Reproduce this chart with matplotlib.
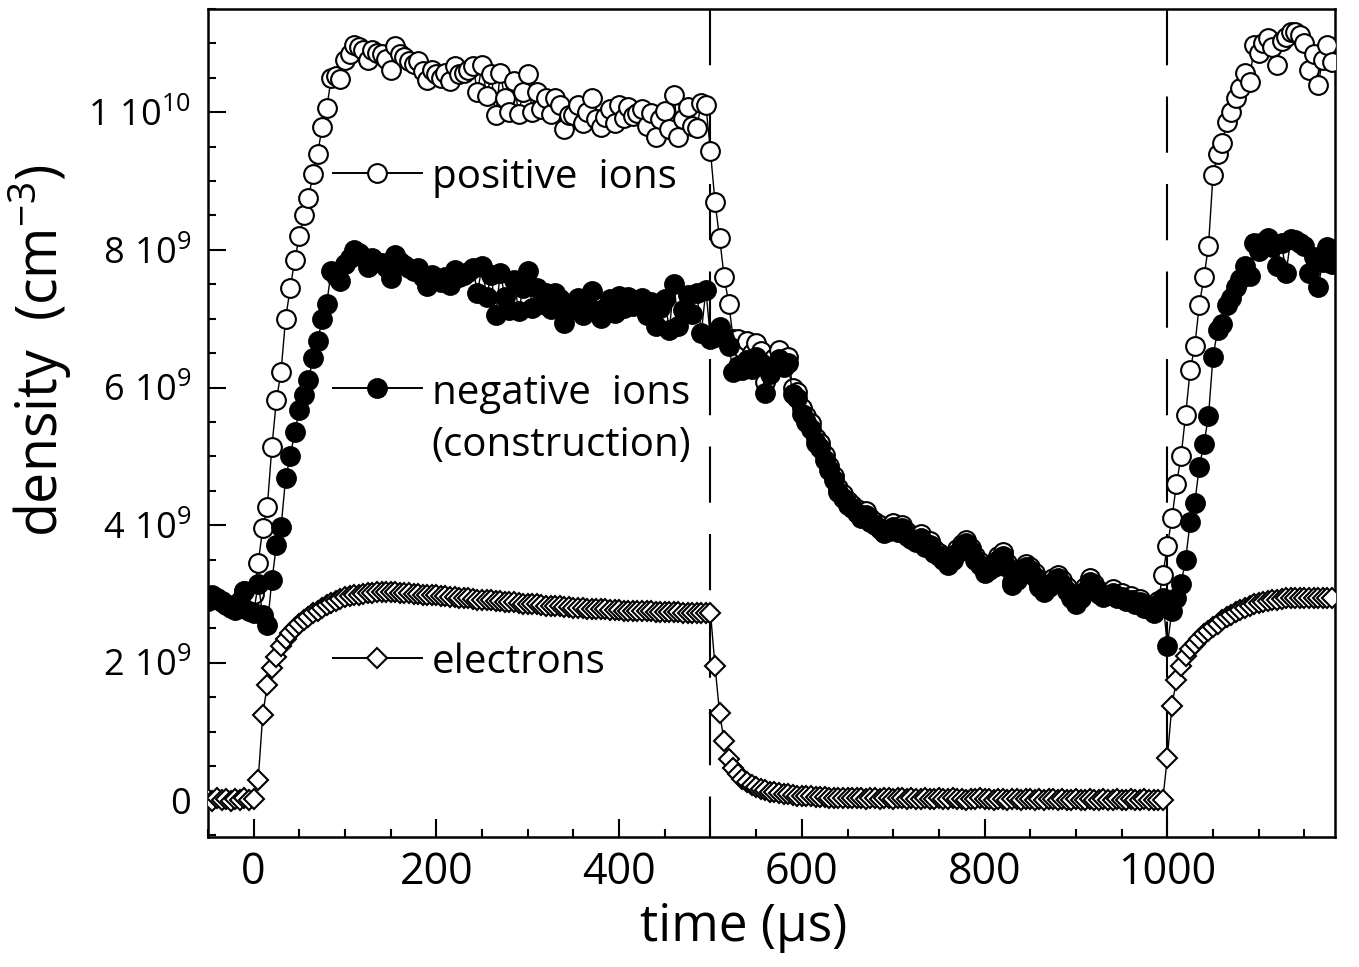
import numpy as np
import matplotlib
matplotlib.use("Agg")
import matplotlib.pyplot as plt
from matplotlib.ticker import MultipleLocator, FixedLocator, FixedFormatter

plt.rcParams['font.family'] = ['Open Sans', 'DejaVu Sans']
plt.rcParams['mathtext.fontset'] = 'custom'
plt.rcParams['mathtext.rm'] = 'Open Sans'
plt.rcParams['mathtext.it'] = 'Open Sans'

# ---- data (densities in units of 1e9 cm^-3), sampled every 5 us from -50 us ----
t_start = -50
t_step = 5

electrons = [
    0.02, 0.00, 0.03, 0.01, 0.02, 0.00, 0.02, 0.01, 0.03, 0.01,
    0.02, 0.30, 1.25, 1.68, 1.92, 2.09, 2.24, 2.35, 2.43, 2.51,
    2.57, 2.62, 2.67, 2.72, 2.76, 2.80, 2.84, 2.87, 2.90, 2.93,
    2.96, 2.97, 2.98, 2.99, 3.00, 3.01, 3.02, 3.03, 3.03, 3.03,
    3.03, 3.03, 3.02, 3.02, 3.01, 3.00, 3.00, 2.99, 2.99, 2.98,
    2.98, 2.97, 2.97, 2.96, 2.96, 2.95, 2.94, 2.94, 2.93, 2.92,
    2.92, 2.91, 2.91, 2.90, 2.90, 2.89, 2.88, 2.88, 2.87, 2.86,
    2.86, 2.85, 2.85, 2.84, 2.83, 2.83, 2.82, 2.82, 2.81, 2.81,
    2.80, 2.80, 2.80, 2.79, 2.79, 2.79, 2.78, 2.78, 2.77, 2.77,
    2.77, 2.76, 2.76, 2.76, 2.75, 2.75, 2.75, 2.75, 2.74, 2.74,
    2.74, 2.74, 2.74, 2.74, 2.73, 2.73, 2.73, 2.73, 2.73, 2.73,
    2.73, 1.95, 1.27, 0.86, 0.60, 0.47, 0.38, 0.32, 0.27, 0.23,
    0.20, 0.17, 0.15, 0.13, 0.12, 0.11, 0.10, 0.09, 0.08, 0.07,
    0.07, 0.06, 0.06, 0.05, 0.05, 0.05, 0.04, 0.04, 0.04, 0.04,
    0.03, 0.04, 0.03, 0.03, 0.02, 0.03, 0.03, 0.02, 0.03, 0.03,
    0.02, 0.03, 0.03, 0.02, 0.03, 0.02, 0.02, 0.03, 0.02, 0.02,
    0.03, 0.02, 0.02, 0.03, 0.02, 0.02, 0.01, 0.02, 0.02, 0.03,
    0.02, 0.02, 0.01, 0.02, 0.02, 0.01, 0.02, 0.02, 0.01, 0.02,
    0.02, 0.01, 0.02, 0.01, 0.02, 0.02, 0.01, 0.02, 0.01, 0.01,
    0.02, 0.01, 0.01, 0.02, 0.01, 0.01, 0.02, 0.01, 0.01, 0.02,
    0.01, 0.01, 0.02, 0.01, 0.01, 0.02, 0.01, 0.01, 0.01, 0.01,
    0.62, 1.38, 1.75, 1.95, 2.10, 2.20, 2.28, 2.35, 2.42, 2.47,
    2.52, 2.57, 2.62, 2.66, 2.70, 2.74, 2.77, 2.80, 2.82, 2.85,
    2.87, 2.89, 2.90, 2.91, 2.92, 2.93, 2.94, 2.95, 2.95, 2.95,
    2.95, 2.95, 2.95, 2.94, 2.94, 2.94, 2.94,
]

positive_ions = [
    2.94, 2.98, 2.95, 2.90, 2.86, 2.82, 2.80, 2.90, 3.05, 2.78,
    3.00, 3.45, 3.96, 4.27, 5.14, 5.82, 6.23, 7.00, 7.44, 7.85,
    8.20, 8.50, 8.75, 9.10, 9.40, 9.78, 10.06, 10.50, 10.52, 10.48,
    10.76, 10.85, 10.98, 10.95, 10.90, 10.76, 10.90, 10.86, 10.84, 10.78,
    10.62, 10.96, 10.84, 10.80, 10.74, 10.70, 10.74, 10.60, 10.47, 10.62,
    10.55, 10.50, 10.57, 10.45, 10.67, 10.55, 10.57, 10.62, 10.67, 10.30,
    10.69, 10.23, 10.55, 9.96, 10.57, 10.20, 10.00, 10.45, 9.98, 10.30,
    10.55, 10.00, 10.29, 10.05, 10.20, 9.97, 10.20, 10.10, 9.75, 9.96,
    9.96, 10.10, 9.85, 10.00, 10.20, 9.90, 9.79, 9.93, 10.05, 9.85,
    10.10, 9.92, 10.08, 9.95, 9.99, 10.05, 9.80, 9.99, 9.64, 9.90,
    10.02, 9.75, 10.25, 9.64, 9.90, 10.07, 9.80, 9.77, 10.14, 10.10,
    9.43, 8.69, 8.17, 7.61, 7.22, 6.70, 6.70, 6.57, 6.67, 6.50,
    6.65, 6.53, 6.08, 6.35, 6.43, 6.54, 6.41, 6.45, 6.00, 5.94,
    5.71, 5.58, 5.48, 5.27, 5.19, 5.02, 4.86, 4.71, 4.54, 4.46,
    4.35, 4.30, 4.23, 4.15, 4.20, 4.10, 4.05, 4.00, 3.93, 3.97,
    4.03, 3.95, 4.01, 3.90, 3.85, 3.80, 3.87, 3.73, 3.77, 3.65,
    3.60, 3.55, 3.47, 3.55, 3.65, 3.73, 3.79, 3.67, 3.55, 3.47,
    3.35, 3.40, 3.45, 3.55, 3.61, 3.45, 3.18, 3.25, 3.35, 3.44,
    3.40, 3.30, 3.15, 3.08, 3.15, 3.23, 3.28, 3.20, 3.10, 3.00,
    2.91, 3.00, 3.10, 3.23, 3.15, 3.05, 3.01, 3.03, 3.07, 3.00,
    3.01, 2.95, 2.97, 2.91, 2.93, 2.85, 2.83, 2.77, 2.90, 3.27,
    3.70, 4.10, 4.60, 5.00, 5.60, 6.25, 6.60, 7.20, 7.60, 8.05,
    9.09, 9.40, 9.55, 9.86, 10.00, 10.20, 10.35, 10.57, 10.44, 10.98,
    10.86, 11.00, 11.08, 10.95, 10.69, 11.03, 11.10, 11.16, 11.17, 11.12,
    11.01, 10.62, 10.85, 10.40, 10.76, 10.98, 10.73,
]

negative_ions = [
    2.90, 2.97, 2.93, 2.88, 2.84, 2.80, 2.77, 2.88, 3.04, 2.76,
    2.72, 3.15, 2.70, 2.55, 3.20, 3.71, 3.97, 4.68, 5.00, 5.35,
    5.67, 5.89, 6.11, 6.43, 6.67, 7.00, 7.22, 7.70, 7.62, 7.55,
    7.80, 7.88, 8.00, 7.96, 7.90, 7.75, 7.88, 7.83, 7.81, 7.75,
    7.59, 7.93, 7.82, 7.78, 7.73, 7.70, 7.74, 7.61, 7.48, 7.64,
    7.57, 7.53, 7.60, 7.49, 7.71, 7.60, 7.63, 7.68, 7.74, 7.38,
    7.77, 7.32, 7.64, 7.06, 7.67, 7.31, 7.12, 7.57, 7.11, 7.44,
    7.69, 7.15, 7.44, 7.21, 7.37, 7.14, 7.38, 7.28, 6.94, 7.15,
    7.16, 7.30, 7.05, 7.21, 7.41, 7.11, 7.01, 7.15, 7.28, 7.08,
    7.33, 7.16, 7.32, 7.19, 7.24, 7.30, 7.05, 7.24, 6.90, 7.16,
    7.28, 6.84, 7.51, 6.90, 7.13, 7.34, 7.07, 7.37, 6.80, 7.42,
    6.70, 6.74, 6.88, 6.72, 6.60, 6.23, 6.32, 6.25, 6.40, 6.27,
    6.45, 6.35, 5.92, 6.20, 6.30, 6.42, 6.30, 6.35, 5.90, 5.85,
    5.62, 5.50, 5.40, 5.20, 5.12, 4.95, 4.80, 4.65, 4.48, 4.40,
    4.30, 4.25, 4.18, 4.10, 4.15, 4.05, 4.00, 3.95, 3.88, 3.92,
    3.98, 3.90, 3.96, 3.85, 3.80, 3.75, 3.82, 3.68, 3.72, 3.60,
    3.55, 3.50, 3.42, 3.50, 3.60, 3.68, 3.74, 3.62, 3.50, 3.42,
    3.30, 3.35, 3.40, 3.50, 3.56, 3.40, 3.13, 3.20, 3.30, 3.39,
    3.35, 3.25, 3.10, 3.03, 3.10, 3.18, 3.23, 3.15, 3.05, 2.95,
    2.86, 2.95, 3.05, 3.18, 3.10, 3.00, 2.96, 2.98, 3.02, 2.95,
    2.96, 2.90, 2.92, 2.86, 2.88, 2.80, 2.78, 2.72, 2.85, 2.94,
    2.25, 2.76, 2.95, 3.15, 3.50, 4.05, 4.32, 4.85, 5.18, 5.58,
    6.45, 6.83, 6.93, 7.20, 7.30, 7.46, 7.58, 7.77, 7.62, 8.10,
    7.99, 8.11, 8.18, 8.04, 7.77, 8.10, 7.66, 8.16, 8.15, 8.10,
    8.06, 7.67, 7.90, 7.46, 7.82, 8.04, 7.79,
]

pulse_edges = [500, 1000]
x_ticks = [0, 200, 400, 600, 800, 1000]
y_ticks = [0, 2, 4, 6, 8, 10]
y_tick_labels = ['0', r'$\mathregular{2\ 10^{9}}$', r'$\mathregular{4\ 10^{9}}$',
                 r'$\mathregular{6\ 10^{9}}$', r'$\mathregular{8\ 10^{9}}$',
                 r'$\mathregular{1\ 10^{10}}$']
legend_lines = [['positive  ions'], ['negative  ions', '(construction)'], ['electrons']]

t = t_start + t_step * np.arange(len(electrons))

# ---- figure ----
fig = plt.figure(figsize=(13.59, 9.67), dpi=100)
ax = fig.add_axes([0.153, 0.1344, 0.829, 0.8563])
xlim = (-50, 1183)
ylim = (-0.53, 11.5)

for xe in pulse_edges:
    ax.plot([xe, xe], [ylim[1], ylim[0]], color='black', lw=1.5,
            linestyle=(0, (27, 15)), zorder=1.5)

circ_ms = 13.5
dia_ms = 10.5
common = dict(color='black', lw=1.0, markeredgecolor='black', markeredgewidth=1.5)
ax.plot(t, positive_ions, marker='o', ms=circ_ms, markerfacecolor='white', zorder=3, **common)
ax.plot(t, negative_ions, marker='o', ms=circ_ms, markerfacecolor='black', zorder=4, **common)
ax.plot(t, electrons, marker='D', ms=dia_ms, markerfacecolor='white', zorder=5, **common)

# inline legend
leg_y = [9.12, 5.99, 2.07]
leg_markers = [('o', 'white', circ_ms), ('o', 'black', circ_ms), ('D', 'white', dia_ms)]
for (mk, fc, ms), yy, lines in zip(leg_markers, leg_y, legend_lines):
    ax.plot([87, 184], [yy, yy], color='black', lw=1.4, zorder=6)
    ax.plot([135], [yy], marker=mk, ms=ms, markerfacecolor=fc,
            markeredgecolor='black', markeredgewidth=1.5, zorder=7, linestyle='none')
    for k, line in enumerate(lines):
        ax.text(195, yy - 0.76 * k, line, fontsize=29, ha='left',
                va='center_baseline', zorder=7)

ax.set_xlim(*xlim)
ax.set_ylim(*ylim)

ax.xaxis.set_major_locator(FixedLocator(x_ticks))
ax.xaxis.set_minor_locator(MultipleLocator(50))
ax.yaxis.set_major_locator(FixedLocator(y_ticks))
ax.yaxis.set_major_formatter(FixedFormatter(y_tick_labels))
ax.yaxis.set_minor_locator(MultipleLocator(0.5))

ax.tick_params(axis='both', which='both', direction='in', top=False, right=False, width=1.5)
ax.tick_params(axis='both', which='major', length=13)
ax.tick_params(axis='both', which='minor', length=6)
ax.tick_params(axis='x', which='major', labelsize=31, pad=10)
ax.tick_params(axis='y', which='major', labelsize=26, pad=12)

for s in ax.spines.values():
    s.set_linewidth(1.8)

ax.set_xlabel('time (\u03bcs)', fontsize=37)
ax.set_ylabel(r'density  (cm$^{\mathregular{-3}}$)', fontsize=40)
ax.xaxis.set_label_coords(0.4756, -0.078)
ax.yaxis.set_label_coords(-0.119, 0.588)

fig.savefig('out.png', dpi=100)
